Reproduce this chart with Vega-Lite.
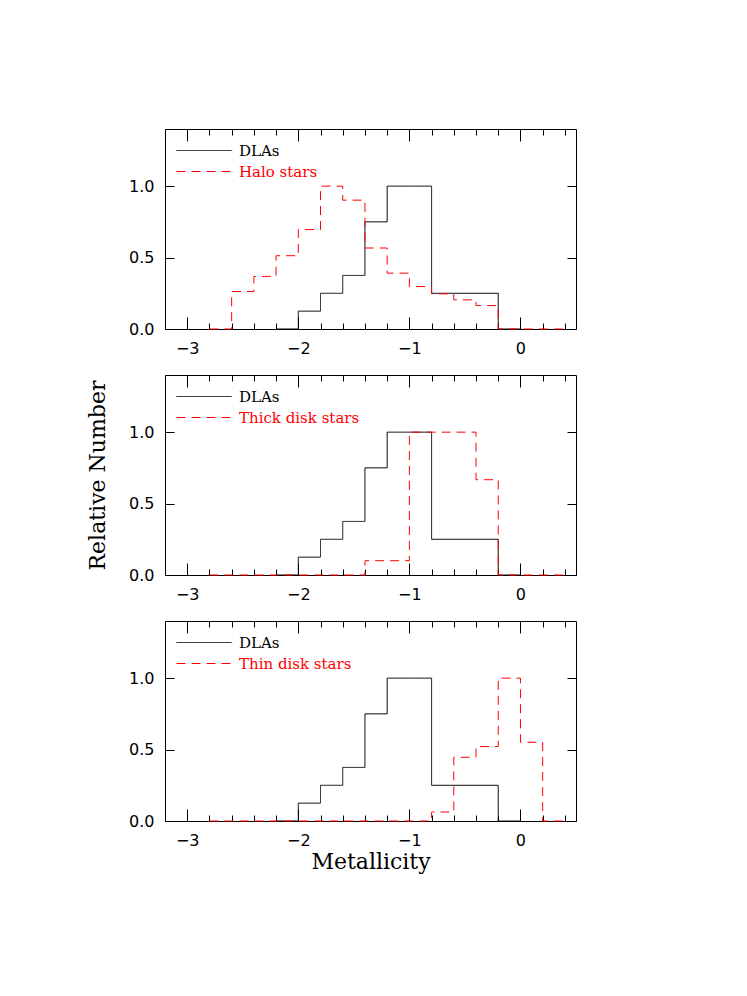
{
  "$schema": "https://vega.github.io/schema/vega-lite/v6.json",
  "padding": {"top": 128, "left": 86, "right": 20, "bottom": 20},
  "background": "white",
  "config": {
    "view": {"stroke": "black", "strokeWidth": 1},
    "axis": {
      "grid": false,
      "domain": false,
      "ticks": true,
      "tickColor": "black",
      "tickWidth": 1,
      "tickOpacity": 1,
      "labelFont": "DejaVu Sans",
      "labelFontSize": 16,
      "labelColor": "black",
      "titleFont": "DejaVu Serif",
      "titleFontSize": 22,
      "titleFontWeight": "normal",
      "titleColor": "black",
      "labelFlush": false,
      "labelOverlap": false,
      "zindex": 1
    },
    "legend": {
      "orient": "top-left",
      "symbolType": "stroke",
      "symbolSize": 3025,
      "symbolStrokeWidth": 1,
      "labelFont": "DejaVu Serif",
      "labelFontSize": 15,
      "labelOffset": 7,
      "offset": 11,
      "padding": 0,
      "rowPadding": 0,
      "clipHeight": 21,
      "title": null
    }
  },
  "datasets": {
    "hist": [
      {"panel": "halo", "series": "DLAs", "x": -2.2, "y": 0},
      {"panel": "halo", "series": "DLAs", "x": -2.0, "y": 0.125},
      {"panel": "halo", "series": "DLAs", "x": -1.8, "y": 0.25},
      {"panel": "halo", "series": "DLAs", "x": -1.6, "y": 0.375},
      {"panel": "halo", "series": "DLAs", "x": -1.4, "y": 0.75},
      {"panel": "halo", "series": "DLAs", "x": -1.2, "y": 1.0},
      {"panel": "halo", "series": "DLAs", "x": -1.0, "y": 1.0},
      {"panel": "halo", "series": "DLAs", "x": -0.8, "y": 0.25},
      {"panel": "halo", "series": "DLAs", "x": -0.6, "y": 0.25},
      {"panel": "halo", "series": "DLAs", "x": -0.4, "y": 0.25},
      {"panel": "halo", "series": "DLAs", "x": -0.2, "y": 0},
      {"panel": "halo", "series": "DLAs", "x": 0.0, "y": 0},
      {"panel": "halo", "series": "Halo stars", "x": -2.8, "y": 0},
      {"panel": "halo", "series": "Halo stars", "x": -2.6, "y": 0.262},
      {"panel": "halo", "series": "Halo stars", "x": -2.4, "y": 0.368},
      {"panel": "halo", "series": "Halo stars", "x": -2.2, "y": 0.513},
      {"panel": "halo", "series": "Halo stars", "x": -2.0, "y": 0.696},
      {"panel": "halo", "series": "Halo stars", "x": -1.8, "y": 1.0},
      {"panel": "halo", "series": "Halo stars", "x": -1.6, "y": 0.902},
      {"panel": "halo", "series": "Halo stars", "x": -1.4, "y": 0.567},
      {"panel": "halo", "series": "Halo stars", "x": -1.2, "y": 0.391},
      {"panel": "halo", "series": "Halo stars", "x": -1.0, "y": 0.297},
      {"panel": "halo", "series": "Halo stars", "x": -0.8, "y": 0.246},
      {"panel": "halo", "series": "Halo stars", "x": -0.6, "y": 0.204},
      {"panel": "halo", "series": "Halo stars", "x": -0.4, "y": 0.164},
      {"panel": "halo", "series": "Halo stars", "x": -0.2, "y": 0},
      {"panel": "halo", "series": "Halo stars", "x": 0.4, "y": 0},
      {"panel": "thick", "series": "DLAs", "x": -2.2, "y": 0},
      {"panel": "thick", "series": "DLAs", "x": -2.0, "y": 0.125},
      {"panel": "thick", "series": "DLAs", "x": -1.8, "y": 0.25},
      {"panel": "thick", "series": "DLAs", "x": -1.6, "y": 0.375},
      {"panel": "thick", "series": "DLAs", "x": -1.4, "y": 0.75},
      {"panel": "thick", "series": "DLAs", "x": -1.2, "y": 1.0},
      {"panel": "thick", "series": "DLAs", "x": -1.0, "y": 1.0},
      {"panel": "thick", "series": "DLAs", "x": -0.8, "y": 0.25},
      {"panel": "thick", "series": "DLAs", "x": -0.6, "y": 0.25},
      {"panel": "thick", "series": "DLAs", "x": -0.4, "y": 0.25},
      {"panel": "thick", "series": "DLAs", "x": -0.2, "y": 0},
      {"panel": "thick", "series": "DLAs", "x": 0.0, "y": 0},
      {"panel": "thick", "series": "Thick disk stars", "x": -2.8, "y": 0},
      {"panel": "thick", "series": "Thick disk stars", "x": -1.4, "y": 0.1},
      {"panel": "thick", "series": "Thick disk stars", "x": -1.0, "y": 1.0},
      {"panel": "thick", "series": "Thick disk stars", "x": -0.4, "y": 0.667},
      {"panel": "thick", "series": "Thick disk stars", "x": -0.2, "y": 0},
      {"panel": "thick", "series": "Thick disk stars", "x": 0.4, "y": 0},
      {"panel": "thin", "series": "DLAs", "x": -2.2, "y": 0},
      {"panel": "thin", "series": "DLAs", "x": -2.0, "y": 0.125},
      {"panel": "thin", "series": "DLAs", "x": -1.8, "y": 0.25},
      {"panel": "thin", "series": "DLAs", "x": -1.6, "y": 0.375},
      {"panel": "thin", "series": "DLAs", "x": -1.4, "y": 0.75},
      {"panel": "thin", "series": "DLAs", "x": -1.2, "y": 1.0},
      {"panel": "thin", "series": "DLAs", "x": -1.0, "y": 1.0},
      {"panel": "thin", "series": "DLAs", "x": -0.8, "y": 0.25},
      {"panel": "thin", "series": "DLAs", "x": -0.6, "y": 0.25},
      {"panel": "thin", "series": "DLAs", "x": -0.4, "y": 0.25},
      {"panel": "thin", "series": "DLAs", "x": -0.2, "y": 0},
      {"panel": "thin", "series": "DLAs", "x": 0.0, "y": 0},
      {"panel": "thin", "series": "Thin disk stars", "x": -2.8, "y": 0},
      {"panel": "thin", "series": "Thin disk stars", "x": -0.8, "y": 0.063},
      {"panel": "thin", "series": "Thin disk stars", "x": -0.6, "y": 0.446},
      {"panel": "thin", "series": "Thin disk stars", "x": -0.4, "y": 0.521},
      {"panel": "thin", "series": "Thin disk stars", "x": -0.2, "y": 1.0},
      {"panel": "thin", "series": "Thin disk stars", "x": 0.0, "y": 0.551},
      {"panel": "thin", "series": "Thin disk stars", "x": 0.2, "y": 0},
      {"panel": "thin", "series": "Thin disk stars", "x": 0.4, "y": 0}
    ]
  },
  "data": {"name": "hist"},
  "spacing": 17,
  "resolve": {
    "scale": {"color": "independent", "strokeDash": "independent"},
    "legend": {"color": "independent", "strokeDash": "independent"}
  },
  "vconcat": [
    {
      "width": 411,
      "height": 200,
      "transform": [{"filter": "datum.panel == 'halo'"}],
      "resolve": {"axis": {"x": "independent", "y": "independent"}},
      "layer": [
        {
          "mark": {"type": "line", "interpolate": "step-after", "strokeWidth": 1},
          "encoding": {
            "x": {
              "field": "x", "type": "quantitative",
              "scale": {"domain": [-3.2, 0.5], "nice": false, "zero": false},
              "axis": {
                "orient": "bottom", "title": null, "offset": -12, "tickSize": 12,
                "values": [-3.2, -3, -2.8, -2.6, -2.4, -2.2, -2, -1.8, -1.6, -1.4, -1.2, -1, -0.8, -0.6, -0.4, -0.2, 0, 0.2, 0.4],
                "tickDash": {"condition": {"test": "abs(datum.value - round(datum.value)) < 0.01", "value": [12, 0]}, "value": [0, 6, 6, 6]},
                "labelExpr": "abs(datum.value - round(datum.value)) < 0.01 ? format(round(datum.value), 'd') : ''",
                "labelPadding": 11
              }
            },
            "y": {
              "field": "y", "type": "quantitative",
              "scale": {"domain": [0, 1.4], "nice": false},
              "axis": {"orient": "left", "title": null, "values": [0, 0.5, 1], "format": ".1f", "offset": -9, "tickSize": 9, "labelPadding": 11}
            },
            "color": {
              "field": "series", "type": "nominal",
              "scale": {"domain": ["DLAs", "Halo stars"], "range": ["black", "red"]},
              "legend": {"encode": {"labels": {"update": {"fill": {"signal": "datum.value == 'DLAs' ? 'black' : 'red'"}}}}}
            },
            "strokeDash": {
              "field": "series", "type": "nominal",
              "scale": {"domain": ["DLAs", "Halo stars"], "range": [[1, 0], [9, 6]]}
            }
          }
        },
        {
          "mark": {"type": "line", "interpolate": "step-after", "opacity": 0},
          "encoding": {
            "detail": {"field": "series"},
            "x": {
              "field": "x", "type": "quantitative",
              "axis": {
                "orient": "top", "title": null, "labels": false, "offset": -12, "tickSize": 12,
                "values": [-3.2, -3, -2.8, -2.6, -2.4, -2.2, -2, -1.8, -1.6, -1.4, -1.2, -1, -0.8, -0.6, -0.4, -0.2, 0, 0.2, 0.4],
                "tickDash": {"condition": {"test": "abs(datum.value - round(datum.value)) < 0.01", "value": [12, 0]}, "value": [0, 6, 6, 6]}
              }
            },
            "y": {
              "field": "y", "type": "quantitative",
              "axis": {"orient": "right", "title": null, "labels": false, "values": [0, 0.5, 1], "offset": -9, "tickSize": 9}
            }
          }
        }
      ]
    },
    {
      "width": 411,
      "height": 200,
      "transform": [{"filter": "datum.panel == 'thick'"}],
      "resolve": {"axis": {"x": "independent", "y": "independent"}},
      "layer": [
        {
          "mark": {"type": "line", "interpolate": "step-after", "strokeWidth": 1},
          "encoding": {
            "x": {
              "field": "x", "type": "quantitative",
              "scale": {"domain": [-3.2, 0.5], "nice": false, "zero": false},
              "axis": {
                "orient": "bottom", "title": null, "offset": -12, "tickSize": 12,
                "values": [-3.2, -3, -2.8, -2.6, -2.4, -2.2, -2, -1.8, -1.6, -1.4, -1.2, -1, -0.8, -0.6, -0.4, -0.2, 0, 0.2, 0.4],
                "tickDash": {"condition": {"test": "abs(datum.value - round(datum.value)) < 0.01", "value": [12, 0]}, "value": [0, 6, 6, 6]},
                "labelExpr": "abs(datum.value - round(datum.value)) < 0.01 ? format(round(datum.value), 'd') : ''",
                "labelPadding": 11
              }
            },
            "y": {
              "field": "y", "type": "quantitative",
              "scale": {"domain": [0, 1.4], "nice": false},
              "axis": {"orient": "left", "title": "Relative Number", "titlePadding": 19, "values": [0, 0.5, 1], "format": ".1f", "offset": -9, "tickSize": 9, "labelPadding": 11}
            },
            "color": {
              "field": "series", "type": "nominal",
              "scale": {"domain": ["DLAs", "Thick disk stars"], "range": ["black", "red"]},
              "legend": {"encode": {"labels": {"update": {"fill": {"signal": "datum.value == 'DLAs' ? 'black' : 'red'"}}}}}
            },
            "strokeDash": {
              "field": "series", "type": "nominal",
              "scale": {"domain": ["DLAs", "Thick disk stars"], "range": [[1, 0], [9, 6]]}
            }
          }
        },
        {
          "mark": {"type": "line", "interpolate": "step-after", "opacity": 0},
          "encoding": {
            "detail": {"field": "series"},
            "x": {
              "field": "x", "type": "quantitative",
              "axis": {
                "orient": "top", "title": null, "labels": false, "offset": -12, "tickSize": 12,
                "values": [-3.2, -3, -2.8, -2.6, -2.4, -2.2, -2, -1.8, -1.6, -1.4, -1.2, -1, -0.8, -0.6, -0.4, -0.2, 0, 0.2, 0.4],
                "tickDash": {"condition": {"test": "abs(datum.value - round(datum.value)) < 0.01", "value": [12, 0]}, "value": [0, 6, 6, 6]}
              }
            },
            "y": {
              "field": "y", "type": "quantitative",
              "axis": {"orient": "right", "title": null, "labels": false, "values": [0, 0.5, 1], "offset": -9, "tickSize": 9}
            }
          }
        }
      ]
    },
    {
      "width": 411,
      "height": 200,
      "transform": [{"filter": "datum.panel == 'thin'"}],
      "resolve": {"axis": {"x": "independent", "y": "independent"}},
      "layer": [
        {
          "mark": {"type": "line", "interpolate": "step-after", "strokeWidth": 1},
          "encoding": {
            "x": {
              "field": "x", "type": "quantitative",
              "scale": {"domain": [-3.2, 0.5], "nice": false, "zero": false},
              "axis": {
                "orient": "bottom", "title": "Metallicity", "titlePadding": 3, "offset": -12, "tickSize": 12,
                "values": [-3.2, -3, -2.8, -2.6, -2.4, -2.2, -2, -1.8, -1.6, -1.4, -1.2, -1, -0.8, -0.6, -0.4, -0.2, 0, 0.2, 0.4],
                "tickDash": {"condition": {"test": "abs(datum.value - round(datum.value)) < 0.01", "value": [12, 0]}, "value": [0, 6, 6, 6]},
                "labelExpr": "abs(datum.value - round(datum.value)) < 0.01 ? format(round(datum.value), 'd') : ''",
                "labelPadding": 11
              }
            },
            "y": {
              "field": "y", "type": "quantitative",
              "scale": {"domain": [0, 1.4], "nice": false},
              "axis": {"orient": "left", "title": null, "values": [0, 0.5, 1], "format": ".1f", "offset": -9, "tickSize": 9, "labelPadding": 11}
            },
            "color": {
              "field": "series", "type": "nominal",
              "scale": {"domain": ["DLAs", "Thin disk stars"], "range": ["black", "red"]},
              "legend": {"encode": {"labels": {"update": {"fill": {"signal": "datum.value == 'DLAs' ? 'black' : 'red'"}}}}}
            },
            "strokeDash": {
              "field": "series", "type": "nominal",
              "scale": {"domain": ["DLAs", "Thin disk stars"], "range": [[1, 0], [9, 6]]}
            }
          }
        },
        {
          "mark": {"type": "line", "interpolate": "step-after", "opacity": 0},
          "encoding": {
            "detail": {"field": "series"},
            "x": {
              "field": "x", "type": "quantitative",
              "axis": {
                "orient": "top", "title": null, "labels": false, "offset": -12, "tickSize": 12,
                "values": [-3.2, -3, -2.8, -2.6, -2.4, -2.2, -2, -1.8, -1.6, -1.4, -1.2, -1, -0.8, -0.6, -0.4, -0.2, 0, 0.2, 0.4],
                "tickDash": {"condition": {"test": "abs(datum.value - round(datum.value)) < 0.01", "value": [12, 0]}, "value": [0, 6, 6, 6]}
              }
            },
            "y": {
              "field": "y", "type": "quantitative",
              "axis": {"orient": "right", "title": null, "labels": false, "values": [0, 0.5, 1], "offset": -9, "tickSize": 9}
            }
          }
        }
      ]
    }
  ]
}
